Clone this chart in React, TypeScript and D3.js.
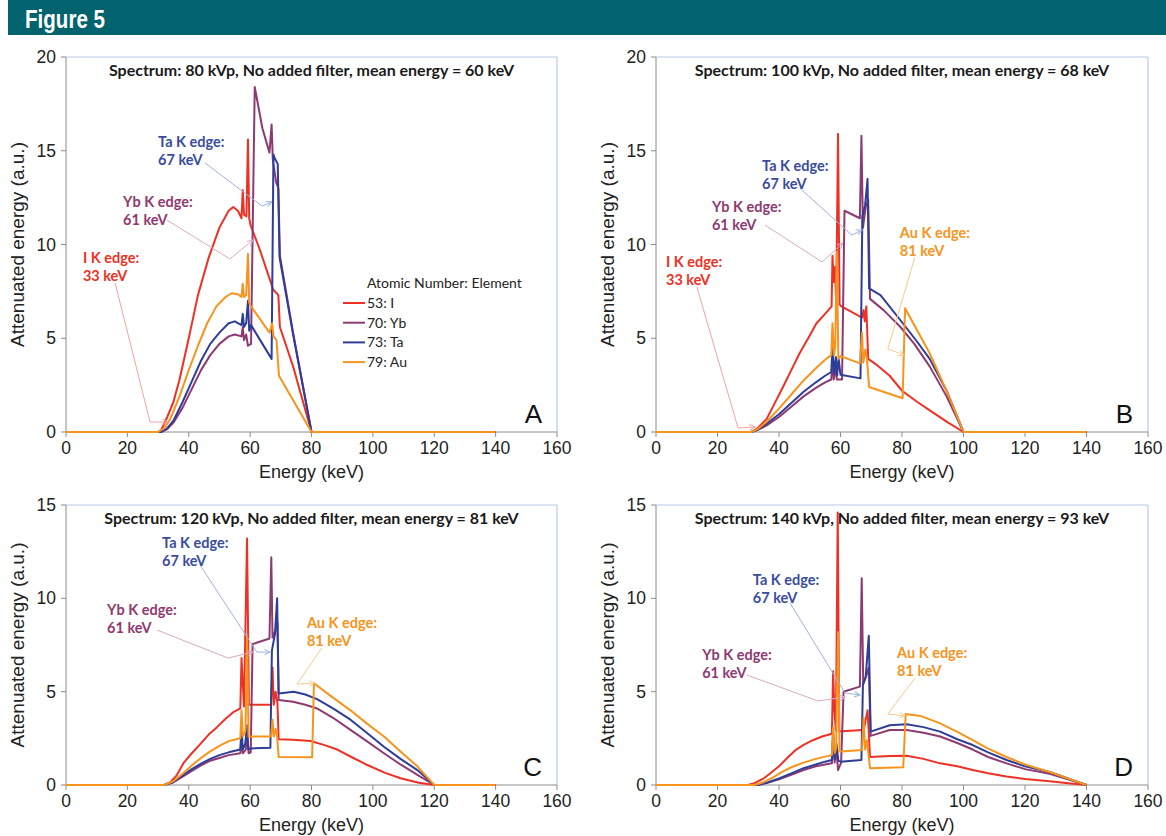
import React from "react";
import * as d3 from "d3";

type Pt = [number, number];

// ---------- Data (energy keV, attenuated energy a.u.) ----------
const elements = ["53: I", "70: Yb", "73: Ta", "79: Au"];
const xTicks = [0, 20, 40, 60, 80, 100, 120, 140, 160];
const yTicksAB = [0, 5, 10, 15, 20];
const yTicksCD = [0, 5, 10, 15];

const A_I: Pt[] = [[0,0],[30,0],[31,0.1],[33,0.8],[35,1.6],[37,2.8],[40,5.0],[43,7.3],[46.5,9.3],[50,10.9],[53,11.8],[54.5,12.0],[56,11.8],[57.2,11.4],[57.6,12.9],[58.0,11.6],[58.8,11.5],[59.3,15.6],[59.7,11.4],[60.2,11.0],[63,9.8],[66.5,8.1],[67.5,7.6],[69.2,7.3],[69.7,5.6],[74,3.5],[80,0],[140,0]];
const A_Yb: Pt[] = [[0,0],[31,0],[33,0.15],[35,0.5],[38,1.3],[41,2.3],[44,3.3],[47,4.1],[50,4.7],[53,5.1],[55,5.2],[57.2,5.1],[57.6,5.6],[58.0,4.9],[58.7,5.2],[59.3,4.6],[60.3,4.7],[61.5,18.4],[64,16.2],[66.3,14.9],[67.0,16.4],[67.4,14.5],[68.5,13.3],[69.2,13.0],[69.7,9.4],[74,5.3],[80,0],[140,0]];
const A_Ta: Pt[] = [[0,0],[31,0],[33,0.2],[35,0.6],[38,1.6],[41,2.7],[44,3.8],[47,4.7],[50,5.3],[53,5.8],[55,5.9],[57.2,5.7],[57.6,6.3],[58.0,5.6],[58.7,5.8],[59.3,7.0],[59.7,5.4],[60.3,5.7],[67.0,3.9],[67.6,14.8],[68.0,14.6],[69.0,14.3],[69.6,9.3],[74,5.2],[80,0],[140,0]];
const A_Au: Pt[] = [[0,0],[30,0],[32,0.2],[34,0.7],[37,1.9],[40,3.3],[43,4.6],[46,5.8],[49,6.7],[52,7.2],[54,7.4],[56,7.35],[57.2,7.2],[57.6,7.9],[58.0,7.2],[58.7,7.3],[59.3,9.5],[59.7,6.9],[60.3,6.7],[66.3,5.3],[67.2,5.8],[67.6,5.1],[68.6,4.9],[69.4,3.0],[80,0],[140,0]];

const B_I: Pt[] = [[0,0],[31,0],[33,0.2],[36,0.7],[38.5,1.5],[41.3,2.4],[44,3.3],[46.7,4.2],[49.5,5.0],[52.2,5.8],[55,6.3],[57.1,6.7],[57.4,9.4],[57.8,8.0],[58.2,8.8],[58.6,6.9],[59.2,15.9],[59.7,6.8],[60.3,6.7],[67.0,6.1],[67.5,6.5],[67.9,5.9],[68.4,6.7],[69.0,3.9],[72,3.55],[76,3.0],[80,2.2],[85,1.6],[90,1.05],[95,0.5],[100,0],[140,0]];
const B_Yb: Pt[] = [[0,0],[31,0],[33,0.1],[36,0.35],[40,0.8],[44,1.35],[48,1.9],[52,2.35],[55,2.65],[57,2.8],[57.4,3.9],[57.8,2.8],[58.4,3.5],[58.8,2.8],[60.5,2.8],[61.3,11.8],[66.3,11.4],[66.8,15.8],[67.3,10.9],[68.2,12.0],[69.0,12.4],[69.6,7.1],[74,6.5],[79.5,5.6],[84,4.7],[89,3.5],[94.5,1.9],[100,0],[140,0]];
const B_Ta: Pt[] = [[0,0],[31,0],[33,0.12],[36,0.45],[40,0.95],[44,1.55],[48,2.15],[52,2.65],[55,3.0],[57,3.2],[57.4,4.55],[57.9,3.1],[58.5,4.0],[58.9,3.0],[59.4,3.9],[60,3.05],[66.5,2.86],[67.1,11.5],[68,12.1],[68.8,13.5],[69.3,7.66],[73,7.3],[79.3,6.0],[85,4.8],[89,3.9],[94.5,2.2],[100,0],[140,0]];
const B_Au: Pt[] = [[0,0],[31,0],[33,0.15],[36,0.55],[40,1.25],[44,2.0],[48,2.75],[52,3.4],[55,3.85],[57,4.1],[57.4,5.8],[57.9,4.1],[58.3,4.6],[58.8,9.6],[59.3,3.9],[60,4.05],[66.3,3.66],[67.0,5.3],[67.4,3.7],[68.1,4.4],[68.6,3.9],[69.3,2.4],[80.2,1.8],[81,6.6],[89,4.2],[95,2.0],[100,0],[140,0]];

const C_I: Pt[] = [[0,0],[32,0],[34,0.15],[36,0.5],[38.4,1.2],[41,1.7],[43.8,2.2],[46.5,2.7],[49.2,3.1],[52,3.55],[54.5,3.9],[56.8,4.1],[57.2,6.8],[57.6,5.5],[58.0,4.2],[59.0,13.2],[59.6,4.3],[66.8,4.3],[67.3,6.3],[67.7,4.3],[68.3,5.0],[68.9,4.4],[69.3,2.45],[74,2.42],[79.7,2.36],[84,2.15],[88.4,1.9],[93,1.5],[98.2,1.07],[104,0.65],[109,0.36],[115,0.12],[120,0],[140,0]];
const C_Yb: Pt[] = [[0,0],[32,0],[35,0.15],[38,0.45],[41,0.75],[44,1.05],[47,1.3],[50,1.45],[53,1.6],[56.8,1.7],[57.2,2.6],[57.6,1.7],[58.6,1.9],[59.0,3.2],[59.5,1.7],[60.2,1.75],[60.8,7.55],[66.3,7.85],[66.9,12.2],[67.3,7.9],[68.3,8.3],[68.9,8.7],[69.3,4.55],[74,4.46],[78,4.3],[81.8,4.1],[87,3.6],[92.7,2.95],[98,2.35],[103.6,1.7],[109,1.1],[114.5,0.54],[120,0],[140,0]];
const C_Ta: Pt[] = [[0,0],[32,0],[35,0.15],[38,0.5],[41,0.85],[44,1.15],[47,1.4],[50,1.6],[53,1.75],[56.8,1.9],[57.2,3.1],[57.6,1.9],[58.4,2.2],[58.9,3.0],[59.4,1.9],[60,1.96],[66.6,2.0],[67.1,7.2],[68.1,8.1],[68.8,10.0],[69.3,4.9],[74.2,5.0],[78,4.85],[81.8,4.6],[87,4.1],[92.7,3.5],[98,2.8],[103.6,2.05],[109,1.4],[114.5,0.8],[120,0],[140,0]];
const C_Au: Pt[] = [[0,0],[32,0],[35,0.2],[38,0.6],[41,1.05],[44,1.45],[47,1.8],[50,2.1],[53,2.35],[56.8,2.5],[57.2,4.0],[57.6,2.6],[58.5,2.9],[59.0,8.0],[59.5,2.6],[60,2.6],[66.8,2.6],[67.3,3.5],[67.7,2.6],[68.3,3.0],[68.8,2.6],[69.3,1.5],[80.2,1.48],[80.8,5.45],[86,4.8],[92.7,4.0],[98,3.3],[103.6,2.6],[109,1.8],[114.5,1.0],[120,0],[140,0]];

const D_I: Pt[] = [[0,0],[30,0],[32,0.1],[35,0.35],[37,0.6],[40,1.0],[43,1.5],[45.6,1.9],[48,2.15],[51,2.4],[54,2.6],[57.2,2.75],[57.6,6.1],[58.0,4.0],[58.5,2.9],[59.1,14.6],[59.6,2.86],[67.0,2.95],[67.5,2.9],[68.8,4.0],[69.2,2.8],[69.6,1.5],[76,1.55],[81.5,1.57],[87,1.4],[92.4,1.16],[98,1.0],[103,0.8],[108,0.63],[114,0.45],[120,0.32],[128,0.2],[134,0.1],[140,0]];
const D_Yb: Pt[] = [[0,0],[33,0],[36,0.1],[40,0.3],[44,0.55],[48,0.8],[52,1.0],[55,1.1],[57.2,1.16],[57.6,2.5],[58.1,1.2],[58.6,2.0],[59.2,0.8],[60.2,1.2],[61.0,5.0],[62,5.05],[66.3,5.27],[66.9,11.07],[67.4,5.4],[68.5,5.9],[69.2,6.3],[69.8,2.63],[76,2.95],[81.5,2.95],[87,2.8],[92.4,2.6],[98,2.25],[103,1.9],[108,1.5],[114,1.16],[120,0.85],[128,0.6],[134,0.3],[140,0]];
const D_Ta: Pt[] = [[0,0],[33,0],[36,0.12],[40,0.35],[44,0.62],[48,0.9],[52,1.1],[55,1.25],[57.2,1.34],[57.6,2.9],[58.1,1.4],[58.7,2.2],[59.3,1.3],[60,1.25],[66.8,1.34],[67.3,5.4],[68.2,5.8],[69.2,8.0],[69.8,2.86],[76,3.2],[81.5,3.25],[87,3.1],[92.4,2.86],[98,2.45],[103,2.14],[108,1.75],[114,1.34],[120,1.0],[128,0.7],[134,0.35],[140,0]];
const D_Au: Pt[] = [[0,0],[32,0],[35,0.15],[38,0.4],[41,0.7],[44,0.95],[48,1.2],[52,1.4],[55,1.52],[57.2,1.6],[57.6,3.1],[58.1,1.7],[58.6,2.0],[59.2,8.2],[59.7,1.8],[60.3,1.8],[67,1.87],[67.5,3.6],[68,1.9],[68.6,2.4],[69.6,0.9],[80.4,0.95],[81.2,3.8],[86,3.7],[92.4,3.3],[98,2.85],[103,2.4],[108,1.95],[114,1.5],[120,1.1],[128,0.7],[134,0.35],[140,0]];

// ---------- Styling ----------
const seriesColors = ["#ee3124", "#8e3a72", "#2e3d98", "#f7941d"];
const textColors = { I: "#ee3124", Yb: "#8e3a72", Ta: "#3a4ca0", Au: "#f7941d" };
const arrowColors = { I: "#f5a3a0", Yb: "#d8aac4", Ta: "#9fb2e0", Au: "#fbc98a" };

type Ann = { el: "I" | "Yb" | "Ta" | "Au"; lines: string[]; text: Pt; path: Pt[] };

const annA: Ann[] = [
  { el: "Ta", lines: ["Ta K edge:", "67 keV"], text: [30.0, 15.2], path: [[45.3, 14.35], [63.9, 12.05], [67.1, 12.27]] },
  { el: "Yb", lines: ["Yb K edge:", "61 keV"], text: [18.6, 12.0], path: [[32.9, 11.3], [53.4, 9.23], [60.9, 10.24]] },
  { el: "I", lines: ["I K edge:", "33 keV"], text: [5.5, 9.0], path: [[16.0, 7.95], [27.4, 0.53], [33.2, 0.53]] },
];
const annB: Ann[] = [
  { el: "Ta", lines: ["Ta K edge:", "67 keV"], text: [34.5, 13.9], path: [[46.8, 13.0], [63.7, 10.5], [67.0, 10.77]] },
  { el: "Yb", lines: ["Yb K edge:", "61 keV"], text: [18.2, 11.73], path: [[35.4, 11.04], [54.0, 9.07], [60.8, 10.08]] },
  { el: "I", lines: ["I K edge:", "33 keV"], text: [3.25, 8.8], path: [[13.3, 7.73], [26.7, 0.21], [32.2, 0.27]] },
  { el: "Au", lines: ["Au K edge:", "81 keV"], text: [79.3, 10.35], path: [[84.2, 9.33], [75.4, 4.43], [80.7, 4.1]] },
];
const annC: Ann[] = [
  { el: "Ta", lines: ["Ta K edge:", "67 keV"], text: [31.3, 12.7], path: [[43.7, 11.78], [62.2, 7.12], [66.5, 7.12]] },
  { el: "Yb", lines: ["Yb K edge:", "61 keV"], text: [13.4, 9.1], path: [[29.7, 8.3], [52.8, 6.8], [60.9, 7.12]] },
  { el: "Au", lines: ["Au K edge:", "81 keV"], text: [78.5, 8.4], path: [[83.4, 7.34], [75.3, 5.41], [81.1, 5.46]] },
];
const annD: Ann[] = [
  { el: "Ta", lines: ["Ta K edge:", "67 keV"], text: [31.5, 10.7], path: [[43.6, 9.75], [61.5, 4.93], [66.3, 4.82]] },
  { el: "Yb", lines: ["Yb K edge:", "61 keV"], text: [15.0, 6.7], path: [[29.6, 5.89], [52.7, 4.5], [61.5, 4.71]] },
  { el: "Au", lines: ["Au K edge:", "81 keV"], text: [78.4, 6.8], path: [[84.2, 5.73], [75.4, 3.8], [81.0, 3.7]] },
];

type Panel = {
  letter: string; title: string; left: number; right: number; top: number; bottom: number;
  ymax: number; yTicks: number[]; series: Pt[][]; ann: Ann[]; legend: boolean;
};

const panels: Panel[] = [
  { letter: "A", title: "Spectrum: 80 kVp, No added filter, mean energy = 60 keV", left: 66, right: 557, top: 57, bottom: 432, ymax: 20, yTicks: yTicksAB, series: [A_I, A_Yb, A_Ta, A_Au], ann: annA, legend: true },
  { letter: "B", title: "Spectrum: 100 kVp, No added filter, mean energy = 68 keV", left: 656, right: 1148, top: 57, bottom: 432, ymax: 20, yTicks: yTicksAB, series: [B_I, B_Yb, B_Ta, B_Au], ann: annB, legend: false },
  { letter: "C", title: "Spectrum: 120 kVp, No added filter, mean energy = 81 keV", left: 66, right: 557, top: 505, bottom: 785, ymax: 15, yTicks: yTicksCD, series: [C_I, C_Yb, C_Ta, C_Au], ann: annC, legend: false },
  { letter: "D", title: "Spectrum: 140 kVp, No added filter, mean energy = 93 keV", left: 656, right: 1148, top: 505, bottom: 785, ymax: 15, yTicks: yTicksCD, series: [D_I, D_Yb, D_Ta, D_Au], ann: annD, legend: false },
];

const AXIS = "#8c8c8c";
const FRAME = "#b7c9e6";
const SANS = "'Liberation Sans', Arial, sans-serif";
const CAL = "Lato, 'Open Sans', sans-serif";

function PanelView({ p }: { p: Panel }) {
  const x = d3.scaleLinear().domain([0, 160]).range([p.left, p.right]);
  const y = d3.scaleLinear().domain([0, p.ymax]).range([p.bottom, p.top]);
  const line = d3.line<Pt>().x((d) => x(d[0])).y((d) => y(d[1]));
  const cx = (p.left + p.right) / 2;
  const midY = (p.top + p.bottom) / 2;
  return (
    <g>
      {/* frame */}
      <line x1={p.left} x2={p.right} y1={p.top} y2={p.top} stroke={FRAME} strokeWidth={1.2} />
      <line x1={p.right} x2={p.right} y1={p.top} y2={p.bottom} stroke={FRAME} strokeWidth={1.2} />
      {/* axes */}
      <line x1={p.left} x2={p.left} y1={p.top} y2={p.bottom} stroke={AXIS} strokeWidth={1} />
      <line x1={p.left} x2={p.right} y1={p.bottom} y2={p.bottom} stroke={AXIS} strokeWidth={1} />
      {p.yTicks.map((t) => (
        <g key={"y" + t}>
          <line x1={p.left - 5} x2={p.left} y1={y(t)} y2={y(t)} stroke={AXIS} />
          <text x={p.left - 10} y={y(t) + 6} textAnchor="end" fontFamily={SANS} fontSize={17.5} fill="#222">{t}</text>
        </g>
      ))}
      {xTicks.map((t) => (
        <g key={"x" + t}>
          <line x1={x(t)} x2={x(t)} y1={p.bottom} y2={p.bottom + 5} stroke={AXIS} />
          <text x={x(t)} y={p.bottom + 22} textAnchor="middle" fontFamily={SANS} fontSize={17.5} fill="#222">{t}</text>
        </g>
      ))}
      <text x={cx} y={p.bottom + 46} textAnchor="middle" fontFamily={SANS} fontSize={18} fill="#222">Energy (keV)</text>
      <text transform={`translate(${p.left - 42},${midY}) rotate(-90)`} textAnchor="middle" fontFamily={SANS} fontSize={19} fill="#222">Attenuated energy (a.u.)</text>
      <text x={cx} y={p.top + 19} textAnchor="middle" fontFamily={CAL} fontWeight={700} fontSize={16} fill="#1a1a1a">{p.title}</text>
      {/* series */}
      {p.series.map((s, i) => (
        <path key={i} d={line(s) || ""} fill="none" stroke={seriesColors[i]} strokeWidth={2} strokeLinejoin="round" />
      ))}
      {/* annotations */}
      {p.ann.map((a, i) => (
        <g key={"a" + i}>
          <path d={line(a.path) || ""} fill="none" stroke={arrowColors[a.el]} strokeWidth={1} markerEnd={`url(#arr-${a.el})`} />
          {a.lines.map((l, j) => (
            <text key={j} x={x(a.text[0])} y={y(a.text[1]) + j * 18} fontFamily={CAL} fontWeight={700} fontSize={14.5} fill={textColors[a.el]}>{l}</text>
          ))}
        </g>
      ))}
      <text x={p.right - 15} y={p.bottom - 9} textAnchor="end" fontFamily={SANS} fontSize={26} fill="#111">{p.letter}</text>
      {p.legend && (
        <g>
          <text x={367} y={288} fontFamily={CAL} fontSize={14} fill="#222">Atomic Number: Element</text>
          {elements.map((e, i) => (
            <g key={e}>
              <line x1={343} x2={365} y1={303 + i * 19.7} y2={303 + i * 19.7} stroke={seriesColors[i]} strokeWidth={2} />
              <text x={367} y={308 + i * 19.7} fontFamily={CAL} fontSize={14} fill="#222">{e}</text>
            </g>
          ))}
        </g>
      )}
    </g>
  );
}

export default function App() {
  return (
    <svg width={1166} height={836} style={{ position: "absolute", left: 0, top: 0, background: "#fff" }}>
      <defs>
        {(["I", "Yb", "Ta", "Au"] as const).map((k) => (
          <marker key={k} id={`arr-${k}`} viewBox="0 0 10 10" refX={9} refY={5} markerWidth={7} markerHeight={7} orient="auto" markerUnits="userSpaceOnUse">
            <path d="M1,1 L9,5 L1,9" fill="none" stroke={arrowColors[k]} strokeWidth={1.4} />
          </marker>
        ))}
      </defs>
      <rect x={0} y={0} width={1166} height={836} fill="#fff" />
      <rect x={8} y={0} width={1158} height={35} fill="#02626e" />
      <text x={25} y={28} fontFamily="'Liberation Sans Narrow', 'Liberation Sans', sans-serif" fontWeight={700} fontSize={25} fill="#fff" textLength={80} lengthAdjust="spacingAndGlyphs">Figure 5</text>
      {panels.map((p) => <PanelView key={p.letter} p={p} />)}
    </svg>
  );
}
